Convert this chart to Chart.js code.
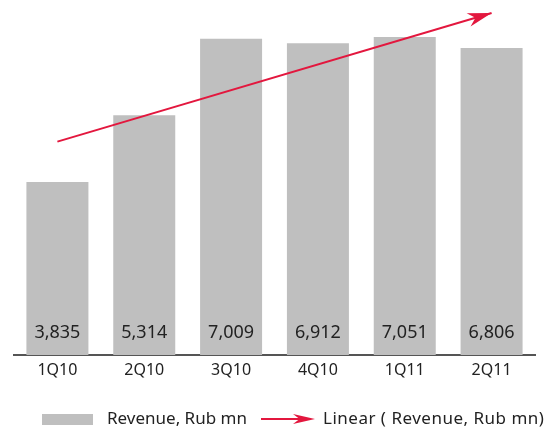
<!DOCTYPE html>
<html>
<head>
<meta charset="utf-8">
<script src="https://cdn.jsdelivr.net/npm/chart.js@4/dist/chart.umd.min.js"></script>
<style>
  html, body { margin: 0; padding: 0; background: #fff; }
  #wrap { width: 544px; height: 428px; position: relative; }
</style>
</head>
<body>
<div id="wrap"><canvas id="revenueChart"></canvas></div>
<script>
// Quarterly revenue with linear trend
const quarters = ['1Q10', '2Q10', '3Q10', '4Q10', '1Q11', '2Q11'];
const revenue = [3835, 5314, 7009, 6912, 7051, 6806];
// trend line end points (first and last quarter), gaps in between
const trend = [4730, null, null, null, null, 7580];
const legendLabels = ['Revenue, Rub mn', 'Linear ( Revenue, Rub mn)'];

const barColor = '#bfbfbf';
const trendColor = '#e3173e';
const textColor = '#222';
const fontFamily = '"Noto Sans", "DejaVu Sans", sans-serif';

function drawArrowHead(ctx, x, y, angle, len, half) {
    ctx.save();
    ctx.translate(x, y);
    ctx.rotate(angle);
    ctx.beginPath();
    ctx.moveTo(0, 0);
    ctx.lineTo(-len, -half);
    ctx.lineTo(-len * 0.7, 0);
    ctx.lineTo(-len, half);
    ctx.closePath();
    ctx.fillStyle = trendColor;
    ctx.fill();
    ctx.restore();
}

// values written near the bottom of each bar
const barValueLabels = {
    id: 'barValueLabels',
    afterDatasetsDraw(chart) {
        const ctx = chart.ctx;
        const meta = chart.getDatasetMeta(0);
        ctx.save();
        ctx.font = '18px ' + fontFamily;
        ctx.fillStyle = textColor;
        ctx.textAlign = 'center';
        ctx.textBaseline = 'middle';
        meta.data.forEach((bar, i) => {
            ctx.fillText(revenue[i].toLocaleString('en-US'), bar.x, bar.base - 22);
        });
        ctx.restore();
    }
};

// arrow head at the end of the trend line
const trendArrow = {
    id: 'trendArrow',
    afterDatasetsDraw(chart) {
        const pts = chart.getDatasetMeta(1).data;
        const a = pts[0], b = pts[pts.length - 1];
        const angle = Math.atan2(b.y - a.y, b.x - a.x);
        drawArrowHead(chart.ctx, b.x, b.y, angle, 24, 7);
    }
};

// legend row under the axis
const bottomLegend = {
    id: 'bottomLegend',
    afterDraw(chart) {
        const ctx = chart.ctx;
        const y = 419;
        ctx.save();
        ctx.fillStyle = barColor;
        ctx.fillRect(42, y - 5, 51, 11);
        ctx.font = '17px ' + fontFamily;
        ctx.fillStyle = textColor;
        ctx.textBaseline = 'middle';
        ctx.fillText(legendLabels[0], 107, y);
        ctx.strokeStyle = trendColor;
        ctx.lineWidth = 2;
        ctx.beginPath();
        ctx.moveTo(261, y);
        ctx.lineTo(310, y);
        ctx.stroke();
        drawArrowHead(ctx, 315, y, 0, 22, 5);
        ctx.fillStyle = textColor;
        ctx.letterSpacing = '0.5px';
        ctx.fillText(legendLabels[1], 323, y);
        ctx.restore();
    }
};

new Chart(document.getElementById('revenueChart'), {
    data: {
        labels: quarters,
        datasets: [
            {
                type: 'bar',
                label: legendLabels[0],
                data: revenue,
                backgroundColor: barColor,
                borderWidth: 0,
                categoryPercentage: 1,
                barPercentage: 0.714,
                order: 2
            },
            {
                type: 'line',
                label: legendLabels[1],
                data: trend,
                borderColor: trendColor,
                borderWidth: 2,
                pointRadius: 0,
                spanGaps: true,
                order: 1
            }
        ]
    },
    options: {
        responsive: true,
        maintainAspectRatio: false,
        animation: false,
        layout: { padding: { left: 14, right: 9, top: 0, bottom: 49 } },
        plugins: {
            legend: { display: false },
            tooltip: { enabled: false }
        },
        scales: {
            x: {
                grid: { display: false, drawTicks: false },
                border: { display: true, color: '#555', width: 2 },
                ticks: {
                    color: textColor,
                    padding: 6,
                    font: { family: fontFamily, size: 16 }
                },
                afterFit(scale) { scale.height = 24; }
            },
            y: {
                display: false,
                min: 0,
                max: 7870
            }
        }
    },
    plugins: [barValueLabels, trendArrow, bottomLegend]
});
</script>
</body>
</html>
